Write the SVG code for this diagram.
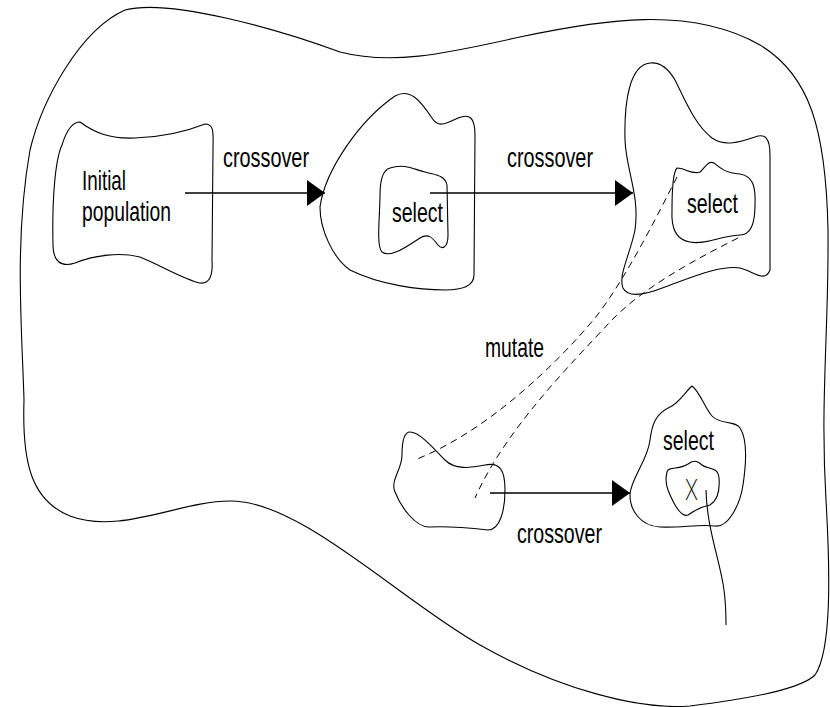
<svg xmlns="http://www.w3.org/2000/svg" width="830" height="707" viewBox="0 0 830 707">
<defs>
<style>
.blob{fill:none;stroke:#000;stroke-width:1.1}
.conn{fill:none;stroke:#000;stroke-width:1.5}
.dash{fill:none;stroke:#000;stroke-width:1;stroke-dasharray:7 5}
.lbl{font-family:"Liberation Sans",Arial,sans-serif;font-size:28px;fill:#000}
.thin{font-family:Inter,"Lato","DejaVu Sans",sans-serif;font-weight:200;font-size:29px;fill:#000}
</style>
<marker id="arr" viewBox="0 0 18 26" refX="18" refY="13" markerWidth="18" markerHeight="26" markerUnits="userSpaceOnUse" orient="auto">
<path d="M0,0 L18,13 L0,26 Z" fill="#000"/>
</marker>
</defs>
<rect width="830" height="707" fill="#fff"/>
<g id="outer">
<path class="blob" d="M24,400 C22,330 14,240 30,150 C42,100 80,30 125,10 C170,-2 280,30 340,52 C390,65 440,55 520,37 C600,20 690,5 760,45 C810,75 826,130 828,230 C829,330 820,400 826,500 C830,570 832,650 815,675 C800,690 740,700 690,706 C640,710 560,690 480,645 C400,600 300,500 230,501 C180,501 120,535 70,516 C30,500 22,460 24,400 Z"/>
</g>
<g id="node-initial">
<path class="blob" d="M80,122 C95,133 110,139 135,138 C165,137 190,130 205,124 C215,124 213,135 213,150 L212,260 C213,275 210,284 200,283 C185,280 160,265 140,257 C120,252 95,255 75,263 C60,268 53,260 53,245 C52,200 55,160 62,145 C66,132 72,122 80,122 Z"/>
<text class="lbl" x="82" y="190" textLength="44" lengthAdjust="spacingAndGlyphs">Initial</text>
<text class="lbl" x="82" y="221" textLength="89" lengthAdjust="spacingAndGlyphs">population</text>
</g>
<g id="node-select1">
<path class="blob" d="M320,207 C325,170 360,120 395,96 C410,88 420,100 432,118 C438,128 445,124 458,118 C470,113 475,118 475,135 L474,275 C474,285 465,290 445,290 C420,290 380,285 350,270 C333,258 320,230 320,207 Z"/>
<path class="blob" d="M390,168 C405,163 415,170 425,172 C435,175 445,175 447,185 L448,235 C448,248 442,250 438,245 C432,237 428,233 420,238 C405,248 390,258 382,252 C376,246 380,215 380,195 C380,180 383,170 390,168 Z"/>
<text class="lbl" x="392" y="222" textLength="51" lengthAdjust="spacingAndGlyphs">select</text>
</g>
<g id="node-select2">
<path class="blob" d="M650,63 C630,65 624,100 625,140 C626,170 640,195 635,230 C630,255 618,275 623,288 C628,298 645,295 665,287 C690,278 720,265 740,268 C755,272 765,283 770,270 L770,155 C770,138 765,133 755,137 C740,142 725,147 712,138 C695,125 685,100 675,80 C668,68 660,62 650,63 Z"/>
<path class="blob" d="M677,168 C685,168 692,175 700,172 C705,168 708,160 714,163 C720,168 725,173 740,174 C752,176 756,185 755,205 C755,225 750,235 740,235 C720,236 705,245 690,242 C676,240 671,228 672,210 C672,190 673,172 677,168 Z"/>
<text class="lbl" x="687" y="213" textLength="51" lengthAdjust="spacingAndGlyphs">select</text>
</g>
<g id="node-mutant">
<path class="blob" d="M410,432 C420,432 435,450 445,460 C455,470 470,468 485,465 C500,462 505,470 505,490 C505,510 500,530 488,530 C470,528 450,526 430,527 C415,528 400,505 395,492 C390,480 402,470 402,455 C402,440 404,432 410,432 Z"/>
</g>
<g id="node-select3">
<path class="blob" d="M692,386 C685,392 680,402 670,407 C655,414 652,425 650,440 C648,460 630,480 630,495 C630,510 640,526 660,527 C680,528 700,524 715,526 C728,528 740,505 743,485 C746,465 748,440 740,428 C735,420 720,425 712,416 C705,408 700,392 692,386 Z"/>
<text class="lbl" x="663" y="450" textLength="51" lengthAdjust="spacingAndGlyphs">select</text>
<path class="blob" d="M667,472 C668,466 680,470 688,464 C693,460 697,460 702,465 C708,470 718,466 719,478 C720,490 718,500 710,505 C700,507 695,510 688,515 C680,518 672,500 668,490 C665,482 666,476 667,472 Z"/>
<text class="thin" x="685" y="500" textLength="13" lengthAdjust="spacingAndGlyphs">X</text>
</g>
<g id="connectors">
<line class="conn" x1="185" y1="193" x2="325" y2="193" marker-end="url(#arr)"/>
<line class="conn" x1="430" y1="193" x2="633" y2="193" marker-end="url(#arr)"/>
<line class="conn" x1="490" y1="493" x2="630" y2="493" marker-end="url(#arr)"/>
<path class="dash" d="M677,177 C655,220 625,280 595,318 C560,360 490,430 417,459"/>
<path class="dash" d="M738,238 C690,262 640,290 610,322 C570,365 505,430 475,498"/>
<path class="blob" d="M706,490 C707,530 720,560 724,590 C726,605 726,615 726,625"/>
<text class="lbl" x="223" y="167" textLength="86" lengthAdjust="spacingAndGlyphs">crossover</text>
<text class="lbl" x="507" y="167" textLength="86" lengthAdjust="spacingAndGlyphs">crossover</text>
<text class="lbl" x="485" y="357" textLength="59" lengthAdjust="spacingAndGlyphs">mutate</text>
<text class="lbl" x="517" y="543" textLength="85" lengthAdjust="spacingAndGlyphs">crossover</text>
</g>
</svg>
